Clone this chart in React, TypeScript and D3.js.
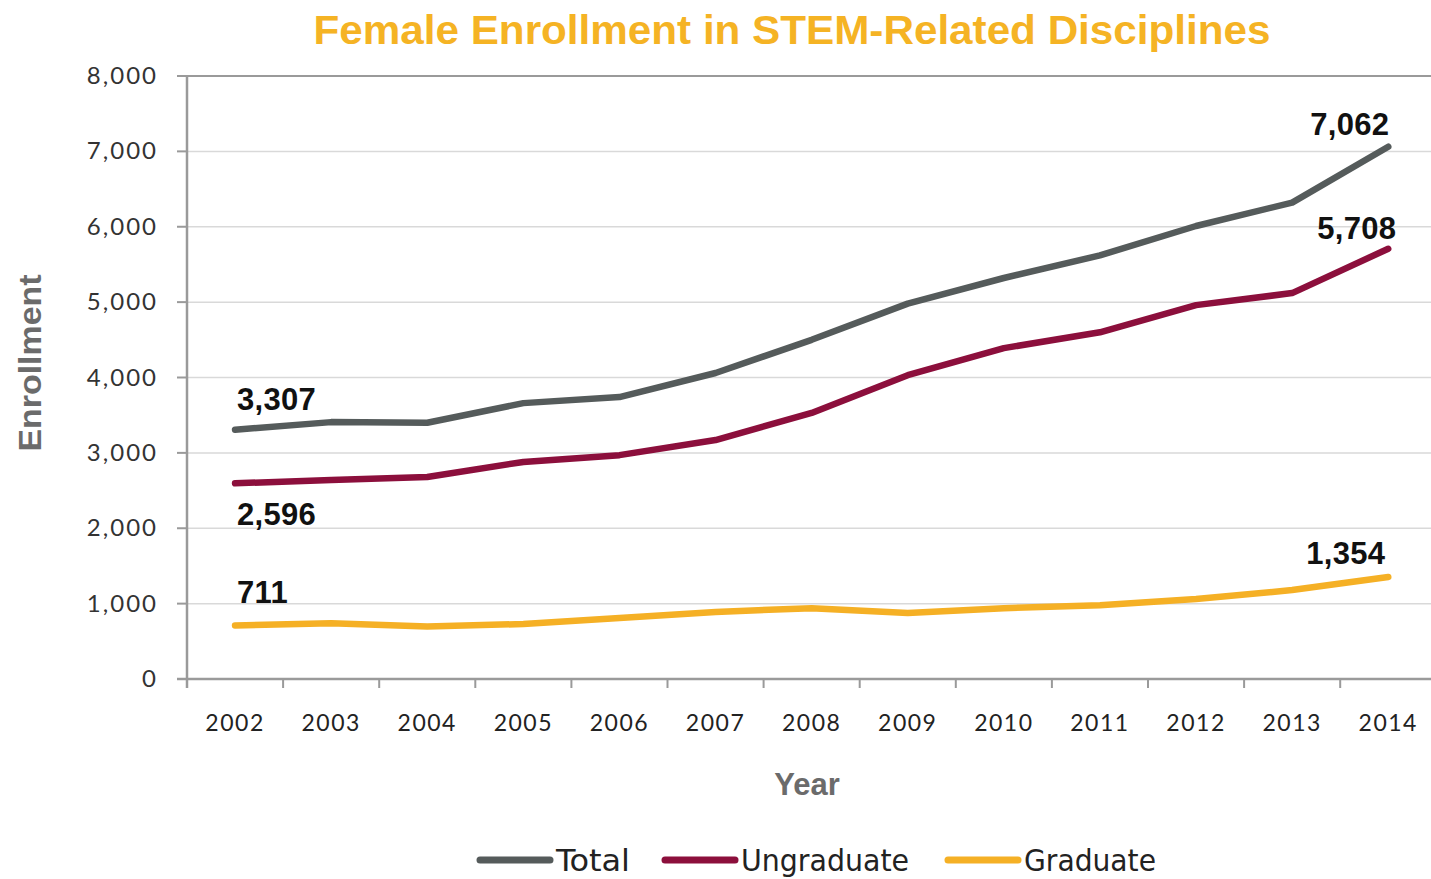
import React from "react";
import * as d3 from "d3";

const years = ["2002","2003","2004","2005","2006","2007","2008","2009","2010","2011","2012","2013","2014"];
const totalValues = [3307, 3408, 3400, 3660, 3740, 4060, 4500, 4980, 5320, 5620, 6010, 6320, 7062];
const undergradValues = [2596, 2640, 2680, 2880, 2970, 3170, 3530, 4030, 4390, 4600, 4960, 5120, 5708];
const gradValues = [711, 740, 695, 730, 810, 890, 940, 875, 940, 980, 1060, 1180, 1354];
const yTicks = [0, 1000, 2000, 3000, 4000, 5000, 6000, 7000, 8000];
const seriesNames = ["Total", "Ungraduate", "Graduate"];
const seriesColors = ["#555b5b", "#8c0f3c", "#f5b025"];

const W = 1431;
const H = 879;
const left = 187;
const top = 76;
const bottom = 679;
const tickStart = 177;

export default function App() {
  const x = d3.scaleBand<string>().domain(years).range([left, left + 13 * 96.1]).padding(0);
  const y = d3.scaleLinear().domain([0, 8000]).range([bottom, top]);
  const cx = (yr: string) => (x(yr) as number) + x.bandwidth() / 2;
  const line = d3
    .line<number>()
    .x((_, i) => cx(years[i]))
    .y((d) => y(d))
    .curve(d3.curveLinear);
  const fmt = d3.format(",");
  const series = [totalValues, undergradValues, gradValues];
  const first = years[0];
  const last = years[years.length - 1];
  const labelFont = "'Liberation Sans', Arial, sans-serif";
  const tickFont = "Lato, 'Open Sans', sans-serif";

  const legendX = [480, 665, 948];
  const legendTextLen = [74, 168, 132];
  const dl = { fontFamily: labelFont, fontWeight: "bold" as const, fontSize: 31, fill: "#111", letterSpacing: 0.3 };

  return (
    <svg width={W} height={H} style={{ position: "absolute", left: 0, top: 0, background: "#fff" }}>
      <rect width={W} height={H} fill="#fff" />
      <text
        x={792}
        y={44}
        textAnchor="middle"
        fontFamily={labelFont}
        fontWeight="bold"
        fontSize={40}
        fill="#f5b324"
        textLength={957}
        lengthAdjust="spacingAndGlyphs"
      >
        Female Enrollment in STEM-Related Disciplines
      </text>

      {/* gridlines */}
      {yTicks.filter((t) => t > 0).map((t) => (
        <line
          key={"g" + t}
          x1={t === 8000 ? tickStart : left}
          x2={W}
          y1={y(t)}
          y2={y(t)}
          stroke={t === 8000 ? "#9a9a9a" : "#d9d9d9"}
          strokeWidth={t === 8000 ? 2 : 1.5}
        />
      ))}
      {/* y ticks */}
      {yTicks.map((t) => (
        <g key={"yt" + t}>
          <line x1={tickStart} x2={left} y1={y(t)} y2={y(t)} stroke="#9a9a9a" strokeWidth={2} />
          <text
            x={158}
            y={y(t) + 8}
            textAnchor="end"
            fontFamily={tickFont}
            fontSize={24}
            letterSpacing={2}
            fill="#333"
          >
            {fmt(t)}
          </text>
        </g>
      ))}
      {/* axes */}
      <line x1={left} x2={left} y1={top} y2={688} stroke="#9a9a9a" strokeWidth={2.5} />
      <line x1={tickStart} x2={W} y1={bottom} y2={bottom} stroke="#9a9a9a" strokeWidth={2.5} />
      {years.map((yr) => (
        <g key={"xt" + yr}>
          <line x1={x(yr)} x2={x(yr)} y1={bottom} y2={688} stroke="#9a9a9a" strokeWidth={2} />
          <text
            x={cx(yr)}
            y={731}
            textAnchor="middle"
            fontFamily={tickFont}
            fontSize={23}
            letterSpacing={1.5}
            fill="#222"
          >
            {yr}
          </text>
        </g>
      ))}

      {/* axis titles */}
      <text
        x={807}
        y={795}
        textAnchor="middle"
        fontFamily={labelFont}
        fontWeight="bold"
        fontSize={31}
        fill="#6b6b6b"
      >
        Year
      </text>
      <text
        transform="translate(41,363) rotate(-90)"
        textAnchor="middle"
        fontFamily={labelFont}
        fontWeight="bold"
        fontSize={32}
        fill="#6b6b6b"
        textLength={177}
        lengthAdjust="spacingAndGlyphs"
      >
        Enrollment
      </text>

      {/* lines */}
      {series.map((s, i) => (
        <path
          key={"l" + i}
          d={line(s) || ""}
          fill="none"
          stroke={seriesColors[i]}
          strokeWidth={6.5}
          strokeLinejoin="round"
          strokeLinecap="round"
        />
      ))}

      {/* data labels */}
      <text x={cx(first) + 2} y={y(totalValues[0]) - 20} {...dl}>
        {fmt(totalValues[0])}
      </text>
      <text x={cx(first) + 2} y={y(undergradValues[0]) + 42} {...dl}>
        {fmt(undergradValues[0])}
      </text>
      <text x={cx(first) + 2} y={y(gradValues[0]) - 22} {...dl}>
        {fmt(gradValues[0])}
      </text>
      <text x={cx(last) + 1} y={y(totalValues[12]) - 12} textAnchor="end" {...dl}>
        {fmt(totalValues[12])}
      </text>
      <text x={cx(last) + 8} y={y(undergradValues[12]) - 10} textAnchor="end" {...dl}>
        {fmt(undergradValues[12])}
      </text>
      <text x={cx(last) - 3} y={y(gradValues[12]) - 13} textAnchor="end" {...dl}>
        {fmt(gradValues[12])}
      </text>

      {/* legend */}
      {seriesNames.map((n, i) => (
        <g key={"lg" + n}>
          <line
            x1={legendX[i]}
            x2={legendX[i] + 70}
            y1={860}
            y2={860}
            stroke={seriesColors[i]}
            strokeWidth={7}
            strokeLinecap="round"
          />
          <text
            x={legendX[i] + 76}
            y={871}
            fontFamily="'DejaVu Sans Condensed', 'DejaVu Sans', sans-serif"
            fontSize={30}
            fill="#222"
            textLength={legendTextLen[i]}
            lengthAdjust="spacingAndGlyphs"
          >
            {n}
          </text>
        </g>
      ))}
    </svg>
  );
}
